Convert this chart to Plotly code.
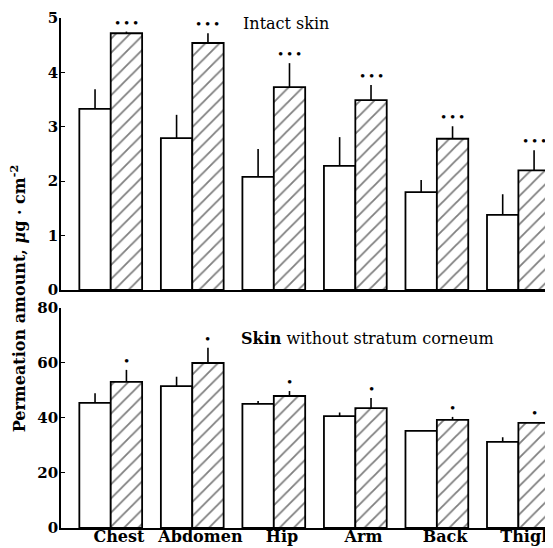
import plotly.graph_objects as go

sites = ["Chest", "Abdomen", "Hip", "Arm", "Back", "Thigh"]

# Intact skin (upper panel), ug/cm^2
intact_open = [3.33, 2.79, 2.08, 2.28, 1.80, 1.38]
intact_open_err = [0.36, 0.43, 0.51, 0.53, 0.22, 0.38]
intact_hatch = [4.72, 4.54, 3.73, 3.49, 2.78, 2.20]
intact_hatch_err = [0.03, 0.18, 0.44, 0.28, 0.23, 0.37]
intact_sig = ["• • •"] * 6

# Skin without stratum corneum (lower panel)
strip_open = [45.5, 51.6, 45.1, 40.7, 35.3, 31.3]
strip_open_err = [3.5, 3.4, 1.1, 1.3, 0.3, 1.7]
strip_hatch = [53.1, 60.0, 48.0, 43.6, 39.3, 38.2]
strip_hatch_err = [4.4, 5.5, 1.8, 3.7, 1.1, 0.3]
strip_sig = ["•"] * 6

FONT = "DejaVu Serif"
idx = list(range(len(sites)))

fig = go.Figure()

def add_pair(open_v, open_e, hatch_v, hatch_e, xa, ya):
    fig.add_trace(go.Bar(
        x=idx, y=open_v, xaxis=xa, yaxis=ya,
        marker=dict(color="white", line=dict(color="black", width=1.8)),
        error_y=dict(type="data", symmetric=False, array=open_e,
                     arrayminus=[0] * len(open_e), color="black",
                     thickness=1.6, width=0),
        showlegend=False, offsetgroup="a"))
    fig.add_trace(go.Bar(
        x=idx, y=hatch_v, xaxis=xa, yaxis=ya,
        marker=dict(color="white", line=dict(color="black", width=1.8),
                    pattern=dict(shape="/", fgcolor="black", bgcolor="white",
                                 size=10, solidity=0.18)),
        error_y=dict(type="data", symmetric=False, array=hatch_e,
                     arrayminus=[0] * len(hatch_e), color="black",
                     thickness=1.6, width=0),
        showlegend=False, offsetgroup="b"))

add_pair(intact_open, intact_open_err, intact_hatch, intact_hatch_err, "x", "y")
add_pair(strip_open, strip_open_err, strip_hatch, strip_hatch_err, "x2", "y2")

GROUPW = 1 - 0.23
half = GROUPW / 4

for i in idx:
    fig.add_annotation(x=i + half, y=intact_hatch[i] + intact_hatch_err[i],
                       xref="x", yref="y", text=intact_sig[i], showarrow=False,
                       yshift=9, font=dict(family="Liberation Serif", size=15, color="black"))
    fig.add_annotation(x=i + half, y=strip_hatch[i] + strip_hatch_err[i],
                       xref="x2", yref="y2", text=strip_sig[i], showarrow=False,
                       yshift=9, font=dict(family="Liberation Serif", size=15, color="black"))

fig.add_annotation(x=0.368, y=0.990, xref="paper", yref="paper",
                   text="Intact skin", showarrow=False, xanchor="left",
                   yanchor="middle", font=dict(family=FONT, size=16, color="black"))
fig.add_annotation(x=0.364, y=0.3706, xref="paper", yref="paper",
                   text="<b>Skin</b> without stratum corneum", showarrow=False,
                   xanchor="left", yanchor="middle",
                   font=dict(family=FONT, size=16, color="black"))
fig.add_annotation(x=-0.087, y=0.451, xref="paper", yref="paper",
                   text="<b>Permeation amount, <i>μ</i>g · cm<sup>-2</sup></b>",
                   showarrow=False, textangle=-90, xanchor="center",
                   yanchor="middle", font=dict(family=FONT, size=16, color="black"))

xrange = [-0.61, 5.40]
tick_font = dict(family=FONT, size=16, color="black", weight="bold")
common_x = dict(range=xrange, showline=True, linecolor="black", linewidth=1.8,
                showgrid=False, zeroline=False, ticks="")
common_y = dict(showline=True, linecolor="black", linewidth=1.8, showgrid=False,
                zeroline=False, ticks="inside", ticklen=4, tickwidth=1.2,
                tickcolor="black", tickfont=dict(family=FONT, size=15, color="black", weight="bold"),
                ticklabelstandoff=-2)

# the page body adds an 8px offset, so the figure is sized 8px smaller
fig.update_layout(
    width=545, height=540,
    margin=dict(l=53, r=0, t=10, b=20),
    paper_bgcolor="white", plot_bgcolor="white",
    barmode="group", bargap=0.23, bargroupgap=0,
    xaxis=dict(**common_x, domain=[0, 1], anchor="y", showticklabels=False),
    yaxis=dict(**common_y, domain=[0.4667, 1], range=[0, 5], dtick=1, anchor="x"),
    xaxis2=dict(**common_x, domain=[0, 1], anchor="y2",
                tickvals=[i + 0.1 for i in idx], ticktext=sites,
                tickfont=tick_font, ticklabelstandoff=-7,
                ticklabeloverflow="allow"),
    yaxis2=dict(**common_y, domain=[0, 0.4314], range=[0, 80], dtick=20,
                anchor="x2"),
)

fig.write_html("out.html")
